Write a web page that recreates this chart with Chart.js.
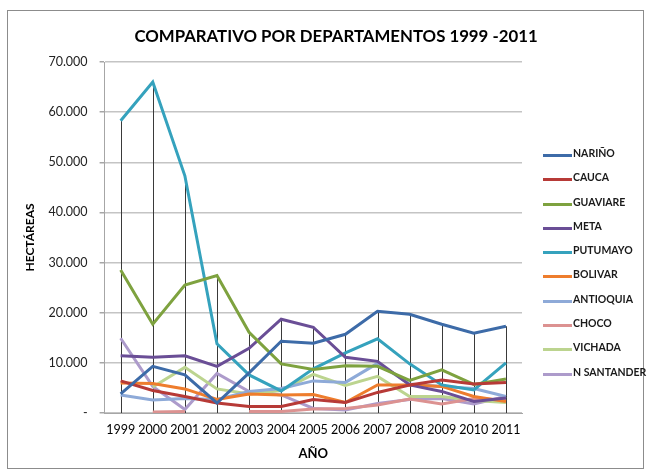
<!DOCTYPE html>
<html>
<head>
<meta charset="utf-8">
<script src="https://cdn.jsdelivr.net/npm/chart.js@4"></script>
<style>
  html, body { margin:0; padding:0; background:#fff; }
  #wrap { position:relative; width:651px; height:476px; overflow:hidden; font-family: Lato, "Open Sans", sans-serif; }
  #frame { position:absolute; left:7px; top:10px; width:637px; height:459px; border:1px solid #8c8c8c; box-sizing:border-box; }
  #c { position:absolute; left:0; top:0; }
  #title { position:absolute; left:0; width:672px; top:25px; text-align:center; font-weight:bold; font-size:16.8px; color:#000; }
  #legend { position:absolute; left:543px; top:146px; }
  .li { position:relative; height:24.3px; font-size:10.5px; font-weight:bold; color:#1a1a1a; white-space:nowrap; }
  .li span.ln { position:absolute; left:0; top:8px; width:29px; height:3px; }
  .li span.tx { position:absolute; left:30px; top:1px; }
</style>
</head>
<body>
<div id="wrap">
  <div id="frame"></div>
  <canvas id="c" width="651" height="476"></canvas>
  <div id="title">COMPARATIVO POR DEPARTAMENTOS 1999 -2011</div>
  <div id="legend"></div>
</div>
<script>
const years = ['1999','2000','2001','2002','2003','2004','2005','2006','2007','2008','2009','2010','2011'];
const names = ['NARIÑO','CAUCA','GUAVIARE','META','PUTUMAYO','BOLIVAR','ANTIOQUIA','CHOCO','VICHADA','N SANTANDER'];
const NARINO     = [3800, 9300, 7600, 2000, 8000, 14300, 13900, 15700, 20300, 19700, 17700, 15900, 17300];
const CAUCA      = [6400, 4500, 3300, 2000, 1300, 1300, 2700, 2100, 4100, 5600, 6600, 5800, 6100];
const GUAVIARE   = [28500, 17700, 25500, 27400, 16100, 9800, 8700, 9400, 9300, 6500, 8600, 5700, 6800];
const META       = [11400, 11100, 11400, 9300, 12900, 18700, 17100, 11100, 10300, 5600, 4300, 2300, 3000];
const PUTUMAYO   = [58300, 66000, 47300, 13800, 7600, 4400, 8800, 12000, 14800, 9800, 5600, 4600, 10000];
const BOLIVAR    = [6000, 5900, 4800, 2700, 3800, 3600, 3700, 2100, 5600, 5600, 5300, 3300, 2300];
const ANTIOQUIA  = [3600, 2600, 2900, 2700, 4300, 4900, 6400, 6100, 9900, 5800, 5300, 4900, 3300];
const CHOCO      = [null, 200, 300, null, 300, 300, 800, 900, 1600, 2800, 1800, 2900, 2600];
const VICHADA    = [null, 5200, 9100, 4800, 3800, 4500, 7700, 5500, 7300, 3300, 3300, 2500, 2100];
const NSANTANDER = [14900, 5300, 700, 7900, 4300, 3600, 900, 600, 1900, 2700, 2900, 1800, 3300];
const yTicks = [0, 10000, 20000, 30000, 40000, 50000, 60000, 70000];

const series = [NARINO, CAUCA, GUAVIARE, META, PUTUMAYO, BOLIVAR, ANTIOQUIA, CHOCO, VICHADA, NSANTANDER];
const colors = ['#3d6ba8','#b73a37','#7ea23f','#6a4e96','#35a2bd','#ee7d2d','#8eaad8','#dc9291','#bcd48f','#ad9bcb'];

// HTML legend
const leg = document.getElementById('legend');
names.forEach((n, i) => {
  const d = document.createElement('div');
  d.className = 'li';
  d.innerHTML = '<span class="ln" style="background:' + colors[i] + '"></span><span class="tx">' + n + '</span>';
  leg.appendChild(d);
});

const dropLines = {
  id: 'dropLines',
  beforeDatasetsDraw(chart) {
    const { ctx, scales: { x, y } } = chart;
    ctx.save();
    ctx.strokeStyle = '#3a3a3a';
    ctx.lineWidth = 1;
    years.forEach((yr, i) => {
      let m = null;
      series.forEach(s => { if (s[i] != null && (m === null || s[i] > m)) m = s[i]; });
      if (m === null) return;
      const px = Math.round(x.getPixelForValue(i)) + 0.5;
      ctx.beginPath();
      ctx.moveTo(px, y.getPixelForValue(m));
      ctx.lineTo(px, y.getPixelForValue(0));
      ctx.stroke();
    });
    ctx.restore();
  }
};

const fmt = v => v === 0 ? '-' : String(v).replace(/\B(?=(\d{3})+(?!\d))/g, '.');

new Chart(document.getElementById('c'), {
  type: 'line',
  data: {
    labels: years,
    datasets: names.map((n, i) => ({
      label: n,
      data: series[i],
      borderColor: colors[i],
      backgroundColor: colors[i],
      borderWidth: 3,
      pointRadius: 0,
      tension: 0,
      spanGaps: false
    }))
  },
  options: {
    responsive: false,
    animation: false,
    events: [],
    layout: { padding: { left: 23, top: 62, right: 129, bottom: 14 } },
    plugins: { legend: { display: false }, title: { display: false }, tooltip: { enabled: false } },
    scales: {
      x: {
        offset: true,
        grid: { display: false, drawTicks: false },
        border: { display: true, color: '#a6a6a6', width: 1 },
        ticks: { color: '#000', font: { family: 'Lato', size: 12.5 }, padding: 9, maxRotation: 0, autoSkip: false },
        title: { display: true, text: 'AÑO', color: '#000', font: { family: 'Lato', size: 13, weight: 'bold' }, padding: { top: 4, bottom: 0 } },
        afterFit(s) { s.height = 49; }
      },
      y: {
        min: 0, max: 70000,
        afterBuildTicks(s) { s.ticks = yTicks.map(v => ({ value: v })); },
        grid: { color: '#c4c4c4', lineWidth: 1.5, tickLength: 5, drawTicks: true, tickColor: '#a6a6a6' },
        border: { display: true, color: '#a6a6a6', width: 1 },
        ticks: { color: '#222', font: { family: 'Lato', size: 12.5 }, padding: 12, callback: v => fmt(v) },
        title: { display: true, text: 'HECTÁREAS', color: '#000', font: { family: 'Lato', size: 12, weight: 'bold' }, padding: { top: 0, bottom: 0 } },
        afterFit(s) { s.width = 81.6; }
      }
    }
  },
  plugins: [dropLines]
});
</script>
</body>
</html>
